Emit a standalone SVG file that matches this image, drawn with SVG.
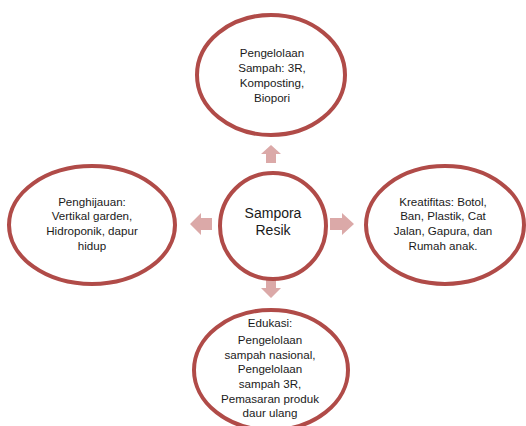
<svg xmlns="http://www.w3.org/2000/svg" width="526" height="426" viewBox="0 0 526 426">
<style>
.n{fill:#ffffff;stroke:#b04b48;stroke-width:4}
.t{font-family:"Liberation Sans",Arial,sans-serif;font-size:11.6px;fill:#1a1a1a;text-anchor:middle}
.c{font-size:14px}
.a{fill:#dba9a8}
</style>
<rect width="526" height="426" fill="#ffffff"/>
<g id="connectors">
<polygon class="a" points="266,163 276,163 276,154 281,154 271,145 261,154 266,154"/>
<polygon class="a" points="212,218 212,230 201,230 201,235 190,224 201,213 201,218"/>
<polygon class="a" points="330,218 342,218 342,213 354,224 342,235 342,230 330,230"/>
<polygon class="a" points="266,280 276,280 276,288 281,288 271,298 261,288 266,288"/>
</g>
<g id="center">
<circle class="n" cx="273" cy="226" r="53"/>
<text class="t c" x="273" y="218">Sampora</text>
<text class="t c" x="273" y="235">Resik</text>
</g>
<g id="top">
<ellipse class="n" cx="271" cy="75" rx="74" ry="60"/>
<text class="t" x="272" y="57">Pengelolaan</text>
<text class="t" x="272" y="72">Sampah: 3R,</text>
<text class="t" x="272" y="87">Komposting,</text>
<text class="t" x="272" y="102">Biopori</text>
</g>
<g id="left">
<ellipse class="n" cx="92" cy="225" rx="83" ry="59"/>
<text class="t" x="92" y="206">Penghijauan:</text>
<text class="t" x="92" y="220">Vertikal garden,</text>
<text class="t" x="92" y="235">Hidroponik, dapur</text>
<text class="t" x="92" y="250">hidup</text>
</g>
<g id="right">
<ellipse class="n" cx="445" cy="225" rx="79" ry="59"/>
<text class="t" x="443" y="206">Kreatifitas: Botol,</text>
<text class="t" x="443" y="220">Ban, Plastik, Cat</text>
<text class="t" x="443" y="235">Jalan, Gapura, dan</text>
<text class="t" x="443" y="250">Rumah anak.</text>
</g>
<g id="bottom">
<ellipse class="n" cx="271" cy="370" rx="77" ry="60"/>
<text class="t" x="270" y="327">Edukasi:</text>
<text class="t" x="270" y="344">Pengelolaan</text>
<text class="t" x="270" y="359">sampah nasional,</text>
<text class="t" x="270" y="373">Pengelolaan</text>
<text class="t" x="270" y="388">sampah 3R,</text>
<text class="t" x="270" y="403">Pemasaran produk</text>
<text class="t" x="270" y="417">daur ulang</text>
</g>
</svg>
